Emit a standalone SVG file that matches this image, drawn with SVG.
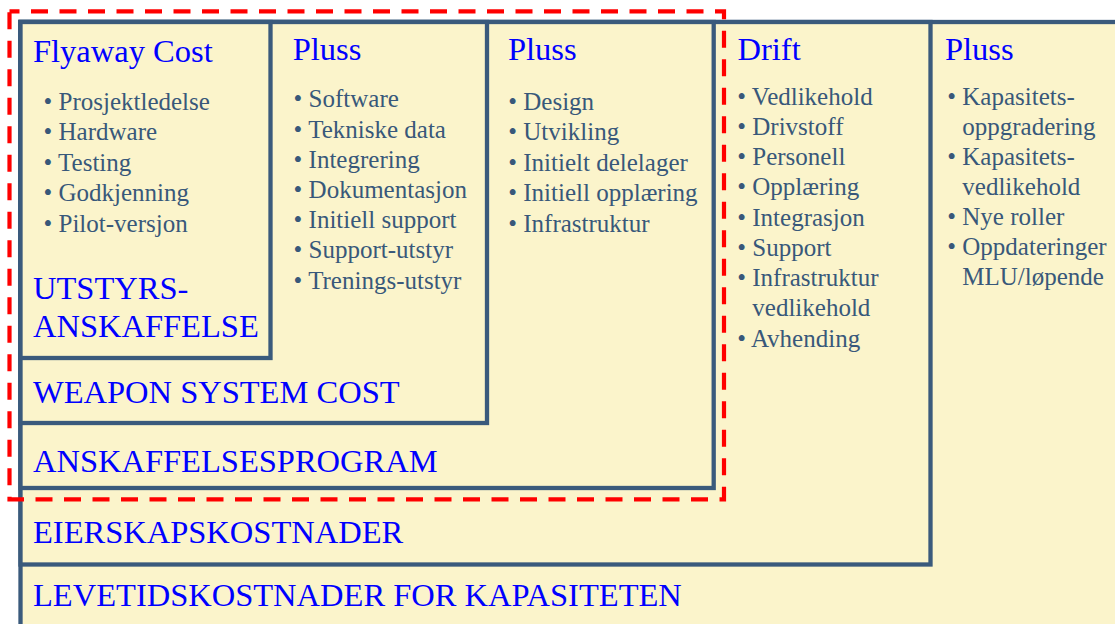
<svg xmlns="http://www.w3.org/2000/svg" width="1115" height="624" viewBox="0 0 1115 624">
<style>
.box{fill:#FBF4CB;stroke:#3A5A7C;stroke-width:4.3}
.title{font-family:"Liberation Serif","Times New Roman",serif;font-size:32.5px;fill:#0000FF}
.item{font-family:"Liberation Serif","Times New Roman",serif;font-size:25px;fill:#38587A}
.dash{fill:none;stroke:#FF0000;stroke-width:4.2;stroke-dasharray:17 11.5;stroke-dashoffset:7}
</style>
<rect width="1115" height="624" fill="#FFFFFF"/>
<g id="levetid">
<rect class="box" x="20.5" y="22" width="1200" height="700"/>
<text class="title" x="33" y="606">LEVETIDSKOSTNADER FOR KAPASITETEN</text>
<text class="title" x="945" y="60">Pluss</text>
<text class="item" x="947.3" y="105">• Kapasitets-</text>
<text class="item" x="962.3" y="135">oppgradering</text>
<text class="item" x="947.3" y="165">• Kapasitets-</text>
<text class="item" x="962.3" y="195">vedlikehold</text>
<text class="item" x="947.3" y="225">• Nye roller</text>
<text class="item" x="947.3" y="255">• Oppdateringer</text>
<text class="item" x="962.3" y="285">MLU/løpende</text>
</g>
<g id="eierskap">
<rect class="box" x="20.5" y="22" width="910" height="542.5"/>
<text class="title" x="33" y="542.7">EIERSKAPSKOSTNADER</text>
<text class="title" x="737.5" y="59.5">Drift</text>
<text class="item" x="737.3" y="104.5">• Vedlikehold</text>
<text class="item" x="737.3" y="134.7">• Drivstoff</text>
<text class="item" x="737.3" y="165">• Personell</text>
<text class="item" x="737.3" y="195.2">• Opplæring</text>
<text class="item" x="737.3" y="225.5">• Integrasjon</text>
<text class="item" x="737.3" y="255.8">• Support</text>
<text class="item" x="737.3" y="286">• Infrastruktur</text>
<text class="item" x="752.3" y="316.3">vedlikehold</text>
<text class="item" x="737.3" y="346.5">• Avhending</text>
</g>
<g id="anskaffelsesprogram">
<rect class="box" x="20.5" y="22" width="693.2" height="466"/>
<text class="title" x="33" y="471.7">ANSKAFFELSESPROGRAM</text>
<text class="title" x="508" y="60">Pluss</text>
<text class="item" x="508.3" y="110">• Design</text>
<text class="item" x="508.3" y="140.4">• Utvikling</text>
<text class="item" x="508.3" y="170.8">• Initielt delelager</text>
<text class="item" x="508.3" y="201.2">• Initiell opplæring</text>
<text class="item" x="508.3" y="231.6">• Infrastruktur</text>
</g>
<g id="weapon">
<rect class="box" x="20.5" y="22" width="466.5" height="401"/>
<text class="title" x="33" y="402.7">WEAPON SYSTEM COST</text>
<text class="title" x="292.7" y="59.5">Pluss</text>
<text class="item" x="293.6" y="107.3">• Software</text>
<text class="item" x="293.6" y="137.5">• Tekniske data</text>
<text class="item" x="293.6" y="167.7">• Integrering</text>
<text class="item" x="293.6" y="197.9">• Dokumentasjon</text>
<text class="item" x="293.6" y="228.1">• Initiell support</text>
<text class="item" x="293.6" y="258.3">• Support-utstyr</text>
<text class="item" x="293.6" y="288.5">• Trenings-utstyr</text>
</g>
<g id="utstyr">
<rect class="box" x="20.5" y="22" width="250" height="336"/>
<text class="title" x="33" y="61.5">Flyaway Cost</text>
<text class="item" x="43.5" y="110">• Prosjektledelse</text>
<text class="item" x="43.5" y="140.4">• Hardware</text>
<text class="item" x="43.5" y="170.8">• Testing</text>
<text class="item" x="43.5" y="201.2">• Godkjenning</text>
<text class="item" x="43.5" y="231.6">• Pilot-versjon</text>
<text class="title" x="33" y="299.3">UTSTYRS-</text>
<text class="title" x="33" y="337.3">ANSKAFFELSE</text>
</g>
<g id="connectors">
<rect class="dash" x="9.5" y="11.3" width="714.5" height="488"/>
</g>
</svg>
